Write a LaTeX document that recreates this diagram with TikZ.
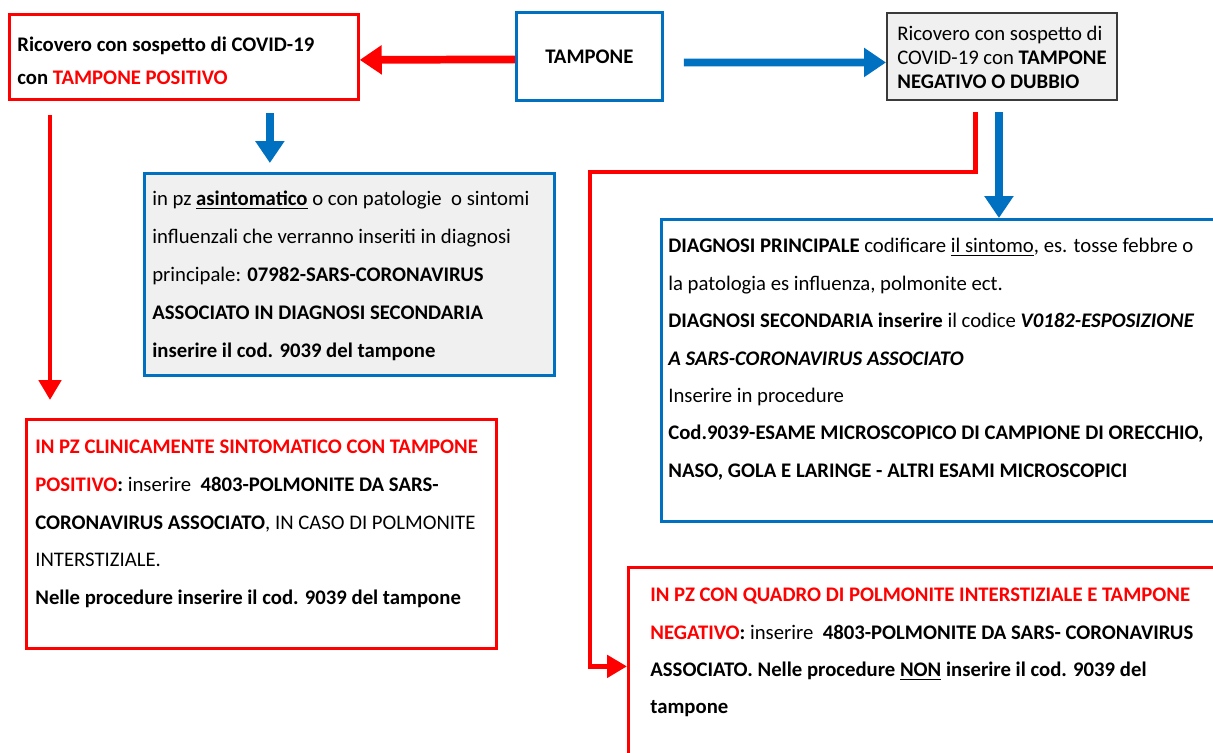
\documentclass[tikz,border=0pt]{standalone}
\usepackage{fontspec}
\setmainfont{Carlito}
\usetikzlibrary{
  arrows.meta,
  calc,
  positioning,
}
\definecolor{boxred}{HTML}{FF0000}
\definecolor{boxblue}{HTML}{0070C0}
\definecolor{boxgrey}{HTML}{F0F0F0}
\definecolor{boxdark}{HTML}{3A3A3A}
\tikzset{
  box/.style={rectangle,draw,line width=1.6pt,anchor=north west,inner sep=0},
  redbox/.style={box,draw=boxred,fill=white},
  bluebox/.style={box,draw=boxblue,fill=white},
  greybox/.style={box,draw=boxdark,line width=1.1pt,fill=boxgrey},
  txt/.style={anchor=north west,align=left,inner sep=0,font=\fontsize{11.8}{#1}\selectfont},
  fatarrow/.style={line width=4.4pt,-{Triangle[width=0.56cm,length=0.44cm]}},
  thinarrow/.style={line width=2.8pt,-{Triangle[width=0.44cm,length=0.4cm]}},
}

\begin{document}
\begin{tikzpicture}[x=0.02cm,y=-0.02cm]
\useasboundingbox (0,0) rectangle (1213,753);

% top row
\node[redbox,minimum width=6.98cm,minimum height=1.70cm] (b1) at (8,13) {};
\node[bluebox,minimum width=2.92cm,minimum height=1.76cm,font=\fontsize{11.8}{13}\selectfont\bfseries] (tampone) at (515,11) {TAMPONE};
\node[greybox,minimum width=4.60cm,minimum height=1.74cm] (b3) at (886,12) {};

% second row
\node[bluebox,fill=boxgrey,minimum width=8.20cm,minimum height=4.04cm] (b4) at (143,172) {};
\node[bluebox,minimum width=11.40cm,minimum height=6.04cm] (b5) at (660,218) {};

% bottom row
\node[redbox,minimum width=9.40cm,minimum height=4.58cm] (b6) at (25,418) {};
\node[redbox,minimum width=12.0cm,minimum height=4.2cm] (b7) at (627,566) {};

% texts
\node[txt=18.7pt] (t1) at (17,37) {\textbf{Ricovero con sospetto di COVID-19}\\
  \textbf{con \textcolor{boxred}{TAMPONE POSITIVO}}};
\node[txt=13.6pt] (t3) at (897,26) {Ricovero con sospetto di\\
  COVID-19 con \textbf{TAMPONE}\\
  \textbf{NEGATIVO O DUBBIO}};
\node[txt=21.5pt] (t4) at (152,191) {in pz \textbf{\underline{asintomatico}} o con patologie\ \ o sintomi\\
  influenzali che verranno inseriti in diagnosi\\
  principale: \textbf{07982-SARS-CORONAVIRUS}\\
  \textbf{ASSOCIATO IN DIAGNOSI SECONDARIA}\\
  \textbf{inserire il cod. 9039 del tampone}};
\node[txt=21.3pt] (t5) at (668,238) {\textbf{DIAGNOSI PRINCIPALE} codificare \underline{il sintomo}, es. tosse febbre o\\
  la patologia es influenza, polmonite ect.\\
  \textbf{DIAGNOSI SECONDARIA inserire} il codice \textbf{\textit{V0182-ESPOSIZIONE}}\\
  \textbf{\textit{A SARS-CORONAVIRUS ASSOCIATO}}\\
  Inserire in procedure\\
  \textbf{Cod.9039-ESAME MICROSCOPICO DI CAMPIONE DI ORECCHIO,}\\
  \textbf{NASO, GOLA E LARINGE - ALTRI ESAMI MICROSCOPICI}};
\node[txt=21.4pt] (t6) at (35,440) {\textbf{\textcolor{boxred}{IN PZ CLINICAMENTE SINTOMATICO CON TAMPONE}}\\
  \textbf{\textcolor{boxred}{POSITIVO}:} inserire\ \ \textbf{4803-POLMONITE DA SARS-}\\
  \textbf{CORONAVIRUS ASSOCIATO}, IN CASO DI POLMONITE\\
  INTERSTIZIALE.\\
  \textbf{Nelle procedure inserire il cod. 9039 del tampone}};
\node[txt=21.2pt] (t7) at (650,588) {\textbf{\textcolor{boxred}{IN PZ CON QUADRO DI POLMONITE INTERSTIZIALE E TAMPONE}}\\
  \textbf{\textcolor{boxred}{NEGATIVO}:} inserire\ \ \textbf{4803-POLMONITE DA SARS- CORONAVIRUS}\\
  \textbf{ASSOCIATO. Nelle procedure \underline{NON} inserire il cod. 9039 del}\\
  \textbf{tampone}};

% connectors
\coordinate (a1) at ($(b1.south)+(86,12)$);
\coordinate (a2) at ($(b1.south west)+(42,14)$);
\coordinate (a3) at ($(b3.south)+(-26,11)$);
\coordinate (a4) at ($(b3.south)+(-3,11)$);

\draw[fatarrow,boxred] ($(tampone.west)+(0,3)$) -- ($(b1.east)+(0,3)$);
\draw[fatarrow,boxblue] ($(tampone.east)+(20,6)$) -- ($(b3.west)+(0,6)$);
\draw[fatarrow,boxblue,shorten >=0.18cm] (a1) -- (a1 |- b4.north);
\draw[thinarrow,boxred,shorten >=0.36cm] (a2) -- (a2 |- b6.north);
\draw[thinarrow,boxred] (a3) |- (590,172) |- ($(b7.west)+(0,-6)$);
\draw[fatarrow,boxblue] (a4) -- (a4 |- b5.north);

\end{tikzpicture}
\end{document}
